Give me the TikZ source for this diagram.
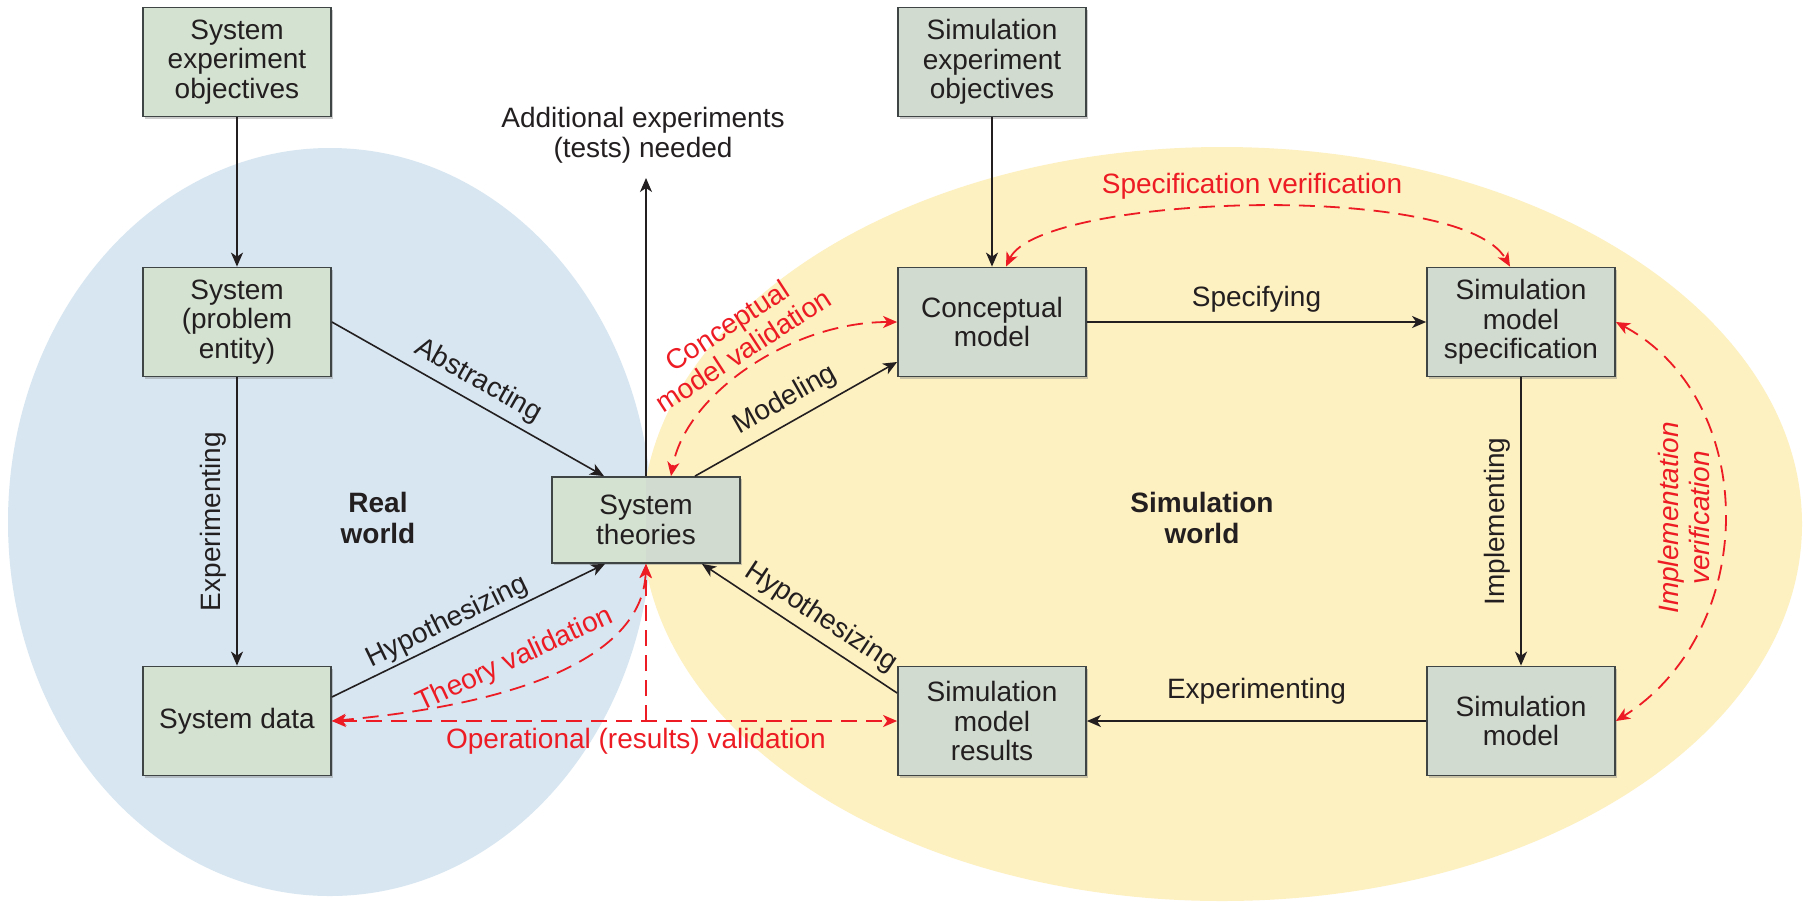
\documentclass[tikz,border=0pt]{standalone}
\usepackage{fontspec}
\setmainfont{Liberation Sans}
\usetikzlibrary{arrows.meta,calc,shadows}

\definecolor{realbg}{HTML}{D7E6F1}
\definecolor{simbg}{HTML}{FDF0C1}
\definecolor{boxgreen}{HTML}{D4E2D2}
\definecolor{boxgrey}{HTML}{D1DBCF}
\definecolor{boxline}{HTML}{3F4545}
\definecolor{valred}{HTML}{ED1C24}
\definecolor{ink}{HTML}{231F20}

\begin{document}
\begin{tikzpicture}[x=0.5pt,y=-0.5pt,
  font=\fontsize{14}{14.8}\selectfont,
  text=ink,
  stagebox/.style={draw=boxline, line width=0.9pt, fill=boxgreen, align=center,
    minimum width=94pt, minimum height=54.5pt, inner sep=2pt,
    drop shadow={shadow xshift=0.8pt, shadow yshift=-1.2pt, opacity=0.4}},
  simbox/.style={stagebox, fill=boxgrey},
  tip/.tip={Stealth[length=7pt,width=6pt,inset=2pt]},
  flow/.style={draw=ink, line width=0.8pt, -tip},
  checkone/.style={draw=valred, line width=0.9pt, dash pattern=on 8pt off 4.5pt, -tip},
  checkboth/.style={checkone, tip-tip},
  lbl/.style={inner sep=1pt},
  redlbl/.style={lbl, text=valred, align=center},
  worldlbl/.style={font=\fontsize{14}{15.5}\selectfont\bfseries, align=center}
]
\useasboundingbox (0,0) rectangle (1814,901);
\fill[white] (0,0) rectangle (1814,901);

% the two worlds
\fill[realbg] (330,522) ellipse [x radius=322, y radius=374];
\fill[simbg] (1222,524) ellipse [x radius=580, y radius=377];

% stages
\node[stagebox] (seo) at (237,62) {System\\experiment\\objectives};
\node[stagebox] (sys) at (237,322) {System\\(problem\\entity)};
\node[stagebox] (sd)  at (237,721) {System data};
\node[stagebox, minimum height=43pt,
  path picture={\fill[boxgrey] (path picture bounding box.north) rectangle (path picture bounding box.south east);}]
  (st) at (646,520) {System\\theories};
\node[simbox] (simeo) at (992,62)  {Simulation\\experiment\\objectives};
\node[simbox] (cm)    at (992,322) {Conceptual\\model};
\node[simbox] (sms)   at (1521,322) {Simulation\\model\\specification};
\node[simbox] (sm)    at (1521,721) {Simulation\\model};
\node[simbox] (smr)   at (992,721) {Simulation\\model\\results};

\node[worldlbl] (realw) at (378,518) {Real\\world};
\node[worldlbl] (simw)  at (1202,518) {Simulation\\world};

% main flow
\draw[flow] (seo) -- (sys);
\draw[flow] (simeo) -- (cm);
\draw[flow] (sys) -- (sd) node[midway, lbl, xshift=-12pt, rotate=90] {Experimenting};
\draw[flow] (sys.east) -- ($(st.north)+(-42,0)$)
  node[midway, sloped, above=2.5pt, lbl] {Abstracting};
\draw[flow] ($(sd.east)+(0,-24)$) -- ($(st.south)+(-41,0)$)
  node[pos=0.45, sloped, above=0.5pt, lbl] {Hypothesizing};
\draw[flow] ($(st.north)+(49,0)$) -- ($(cm.west)+(0,40)$)
  node[midway, sloped, above=3pt, lbl] {Modeling};
\draw[flow] (cm) -- (sms) node[midway, above=3.5pt, lbl] {Specifying};
\draw[flow] (sms) -- (sm) node[midway, lbl, xshift=-12pt, rotate=90] {Implementing};
\draw[flow] (sm) -- (smr) node[midway, above=7pt, lbl] {Experimenting};
\draw[flow] ($(smr.west)+(0,-28)$) -- ($(st.south)+(56,0)$)
  node[pos=0.45, sloped, above=2.5pt, lbl] {Hypothesizing};

\node[lbl, align=center] (addtxt) at (643,135) {Additional experiments\\(tests) needed};
\coordinate (addtip) at (646,178);
\draw[flow] (st.north) -- (addtip);

% validation and verification
\draw[checkboth] ($(cm.north)+(14,0)$) .. controls (1040,195) and (1460,180) .. ($(sms.north)+(-11,0)$)
  node[pos=0.5, above=2.5pt, redlbl] {Specification verification};
\draw[checkboth] (cm.west) .. controls (790,322) and (685,395) .. ($(st.north)+(25,0)$);
\node[redlbl, rotate=33] (cmv) at (735,338) {Conceptual\\model validation};
\draw[checkboth] (sms.east) .. controls (1760,400) and (1760,630) .. (sm.east);
\node[redlbl, rotate=90, font=\fontsize{14}{15.5}\selectfont\itshape] (imv) at (1684,518) {Implementation\\verification};
\draw[checkboth] (sd.east) -- (smr.west);
\draw[checkone] (st.south |- sd.east) -- (st.south);
\node[redlbl] (opv) at (636,741) {Operational (results) validation};
\draw[checkboth] (st.south) .. controls ($(st.south)+(-3,77)$) and (560,700) .. (sd.east);
\node[redlbl, rotate=25] (thv) at (515,660) {Theory validation};
\end{tikzpicture}
\end{document}
